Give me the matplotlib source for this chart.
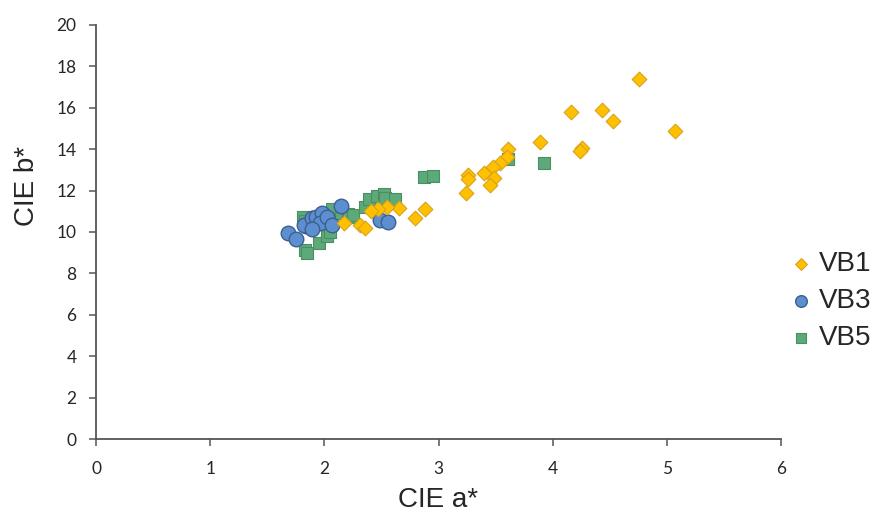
import matplotlib
matplotlib.use("Agg")
import matplotlib.pyplot as plt

# VB1 (diamonds)
vb1_a = [4.76, 4.16, 4.43, 4.53, 5.07, 3.89, 4.26, 4.24, 3.61, 3.60, 3.54, 3.48, 3.40,
         3.49, 3.45, 3.26, 3.26, 3.24, 2.88, 2.79, 2.31, 2.36, 2.65, 2.55, 2.47, 2.41, 2.17]
vb1_b = [17.38, 15.81, 15.89, 15.36, 14.89, 14.35, 14.07, 13.93, 14.02, 13.64, 13.35, 13.12, 12.83,
         12.59, 12.27, 12.75, 12.54, 11.90, 11.13, 10.69, 10.34, 10.21, 11.17, 11.22, 11.10, 11.01, 10.42]

# VB3 (circles)
vb3_a = [1.68, 1.75, 1.84, 1.82, 1.89, 1.93, 1.98, 1.96, 2.02, 2.07, 2.15, 1.89, 2.49, 2.56]
vb3_b = [9.97, 9.65, 10.29, 10.34, 10.66, 10.74, 10.93, 10.45, 10.74, 10.32, 11.26, 10.13, 10.58, 10.50]

# VB5 (squares)
vb5_a = [1.83, 1.85, 1.95, 2.02, 2.05, 1.81, 1.83, 2.07, 2.15, 2.21, 2.22, 2.25, 2.36,
         2.39, 2.46, 2.52, 2.53, 2.62, 2.87, 2.95, 3.61, 3.92]
vb5_b = [9.13, 8.97, 9.45, 9.80, 10.01, 10.72, 10.55, 11.10, 10.90, 10.85, 10.72, 10.82, 11.22,
         11.60, 11.75, 11.85, 11.62, 11.60, 12.64, 12.70, 13.55, 13.35]

x_ticks = [0, 1, 2, 3, 4, 5, 6]
y_ticks = [0, 2, 4, 6, 8, 10, 12, 14, 16, 18, 20]

fig = plt.figure(figsize=(8.77, 5.2), dpi=100)
ax = fig.add_axes([96/877, 81/520, (781-96)/877, (439-25)/520])

ax.scatter(vb5_a, vb5_b, marker='s', s=85, color='#5DA97A', edgecolors='#4A8F64',
           linewidths=0.8, zorder=3, label='VB5')
ax.scatter(vb3_a, vb3_b, marker='o', s=110, color='#5B8FD0', edgecolors='#3C5F8E',
           linewidths=1.0, zorder=4, label='VB3')
ax.scatter(vb1_a, vb1_b, marker='D', s=56, color='#FFC000', edgecolors='#D9A21B',
           linewidths=0.8, zorder=5, label='VB1')

ax.set_xlim(0, 6)
ax.set_ylim(0, 20)
ax.set_xticks(x_ticks)
ax.set_yticks(y_ticks)
ax.set_xticklabels([str(t) for t in x_ticks], fontfamily='Lato', fontsize=12.5, color='#262626')
ax.set_yticklabels([str(t) for t in y_ticks], fontfamily='Lato', fontsize=12.5, color='#262626')

for s in ['top', 'right']:
    ax.spines[s].set_visible(False)
for s in ['left', 'bottom']:
    ax.spines[s].set_color('#555555')
    ax.spines[s].set_linewidth(1.3)
ax.tick_params(axis='both', direction='out', length=5, width=1.1, color='#555555')
ax.tick_params(axis='x', pad=11)
ax.tick_params(axis='y', pad=9)

fig.text(438/877, 1 - 500/520, 'CIE a*', ha='center', va='center',
         fontfamily='Liberation Sans', fontsize=20, color='#262626')
fig.text(27/877, 1 - 186/520, 'CIE b*', ha='center', va='center', rotation=90,
         fontfamily='Liberation Sans', fontsize=20, color='#262626')

handles, labels = ax.get_legend_handles_labels()
order = [2, 1, 0]
leg = fig.legend([handles[i] for i in order], [labels[i] for i in order],
                 loc='center left', bbox_to_anchor=(788/877, 1 - 301/520),
                 frameon=False, prop={'family': 'Liberation Sans', 'size': 20},
                 handletextpad=0.2, labelspacing=0.4, handlelength=0.9,
                 markerscale=0.8, borderaxespad=0, borderpad=0)
for t in leg.get_texts():
    t.set_color('#262626')

fig.savefig('out.png', dpi=100, facecolor='white')
